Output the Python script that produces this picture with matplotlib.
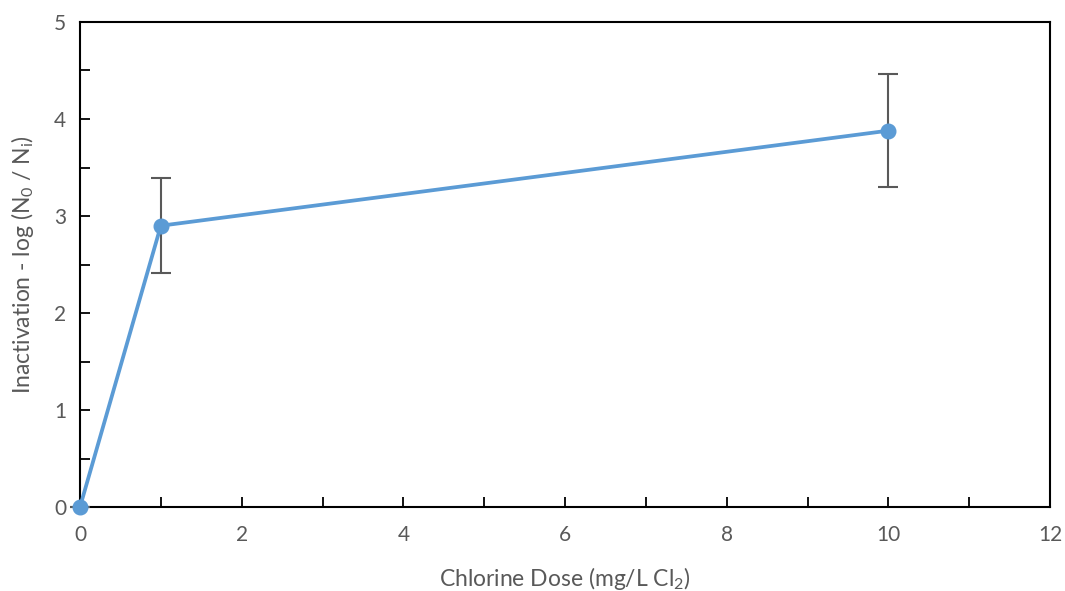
import matplotlib
matplotlib.use("Agg")
import matplotlib.pyplot as plt
from matplotlib.ticker import MultipleLocator

dose = [0, 1, 10]
inactivation = [0.0, 2.90, 3.88]
err = [0.0, 0.49, 0.58]

plt.rcParams['font.family'] = ['Lato', 'DejaVu Sans']
plt.rcParams['mathtext.fontset'] = 'custom'
plt.rcParams['mathtext.rm'] = 'Lato'
plt.rcParams['mathtext.it'] = 'Lato'

fig = plt.figure(figsize=(10.65, 5.91), dpi=100)
ax = fig.add_axes([0.0751, 0.142, 0.911, 0.8208])

ax.errorbar(dose, inactivation, yerr=err, color='#5B9BD5', lw=2.7,
            marker='o', ms=10.5, ecolor='#595959', elinewidth=1.5, capsize=7,
            capthick=1.5, zorder=3, clip_on=False)

ax.set_xlim(0, 12)
ax.set_ylim(0, 5)
ax.xaxis.set_major_locator(MultipleLocator(2))
ax.xaxis.set_minor_locator(MultipleLocator(1))
ax.yaxis.set_major_locator(MultipleLocator(1))
ax.yaxis.set_minor_locator(MultipleLocator(0.5))
for s in ax.spines.values():
    s.set_color('black')
    s.set_linewidth(1.5)
ax.tick_params(which='both', direction='in', colors='black', width=1.3,
               labelcolor='#595959', labelsize=15, top=False, right=False)
ax.tick_params(which='major', length=7, pad=10)
ax.tick_params(axis='x', which='major', pad=13)
ax.tick_params(which='minor', length=7)
ax.set_xlabel('Chlorine Dose (mg/L Cl$_2$)', fontsize=16.5, color='#595959', labelpad=14)
ax.set_ylabel('Inactivation - log (N$_0$ / N$_\\mathrm{i}$)', fontsize=16.5, color='#595959', labelpad=13)

fig.savefig('out.png', dpi=100)
